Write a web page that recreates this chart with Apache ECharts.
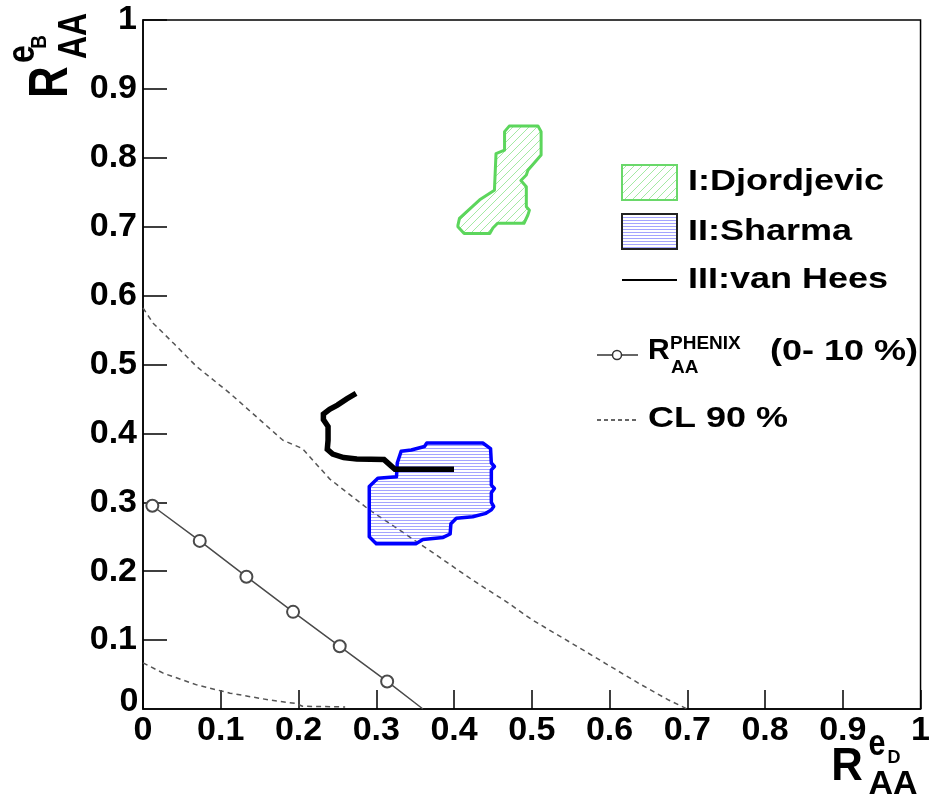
<!DOCTYPE html>
<html><head><meta charset="utf-8">
<script src="https://cdn.jsdelivr.net/npm/echarts@6/dist/echarts.min.js"></script>
<style>html,body{margin:0;padding:0;background:#fff}#c{width:933px;height:801px}</style>
</head><body><div id="c"></div>
<script>
// ---- data ----
const tickLabels = ['0','0.1','0.2','0.3','0.4','0.5','0.6','0.7','0.8','0.9','1'];
const phenixPoints = [[0.012,0.295],[0.073,0.244],[0.133,0.192],[0.193,0.141],[0.253,0.091],[0.314,0.040]];
const phenixEnd = [0.360,0.0];
const clUpper = [[0.0,0.582],[0.013,0.560],[0.040,0.530],[0.069,0.497],[0.112,0.458],[0.150,0.420],[0.180,0.390],[0.205,0.378],[0.240,0.334],[0.291,0.289],[0.340,0.252],[0.383,0.219],[0.424,0.187],[0.467,0.156],[0.501,0.129],[0.552,0.095],[0.595,0.066],[0.638,0.037],[0.676,0.013],[0.700,0.0]];
const clLower = [[0.0,0.067],[0.026,0.052],[0.069,0.035],[0.112,0.023],[0.163,0.013],[0.197,0.008],[0.205,0.004],[0.260,0.003]];
const vanHees = [[0.274,0.458],[0.262,0.450],[0.250,0.441],[0.240,0.435],[0.232,0.428],[0.232,0.420],[0.238,0.410],[0.238,0.390],[0.237,0.377],[0.244,0.370],[0.258,0.365],[0.275,0.363],[0.310,0.362],[0.318,0.354],[0.324,0.348],[0.400,0.348]];
const sharma = [[0.291,0.323],[0.302,0.335],[0.326,0.337],[0.327,0.357],[0.332,0.374],[0.345,0.376],[0.362,0.381],[0.365,0.386],[0.437,0.386],[0.447,0.378],[0.448,0.357],[0.452,0.352],[0.448,0.347],[0.448,0.325],[0.452,0.320],[0.448,0.314],[0.448,0.300],[0.451,0.294],[0.448,0.289],[0.441,0.284],[0.424,0.279],[0.403,0.277],[0.396,0.269],[0.395,0.254],[0.386,0.249],[0.360,0.246],[0.351,0.240],[0.300,0.240],[0.291,0.250]];
const djordjevic = [[0.405,0.702],[0.407,0.712],[0.433,0.739],[0.452,0.753],[0.454,0.806],[0.465,0.811],[0.465,0.838],[0.471,0.846],[0.508,0.846],[0.512,0.838],[0.512,0.804],[0.495,0.782],[0.493,0.775],[0.486,0.767],[0.493,0.758],[0.493,0.729],[0.497,0.724],[0.495,0.717],[0.490,0.705],[0.456,0.705],[0.450,0.698],[0.446,0.690],[0.413,0.690],[0.405,0.700]];

// ---- hatch patterns ----
function greenHatch(){
  const c=document.createElement('canvas');c.width=8;c.height=8;const g=c.getContext('2d');
  g.strokeStyle='rgba(90,215,90,0.55)';g.lineWidth=1;
  g.beginPath();g.moveTo(0,8);g.lineTo(8,0);g.moveTo(-1,1);g.lineTo(1,-1);g.moveTo(7,9);g.lineTo(9,7);g.stroke();
  return c;
}
function blueHatch(){
  const c=document.createElement('canvas');c.width=4;c.height=3;const g=c.getContext('2d');
  g.fillStyle='rgba(90,90,255,0.55)';g.fillRect(0,1,4,1);
  return c;
}
const gPat={image:greenHatch(),repeat:'repeat'};
const bPat={image:blueHatch(),repeat:'repeat'};

const FONT='"Liberation Sans", Arial, Helvetica, sans-serif';
function T(text,cx,cy,size,opt){
  opt=opt||{};
  return {type:'text',x:cx,y:cy,rotation:opt.rot||0,scaleX:opt.sx||1,scaleY:opt.sy||1,z:100,
    style:{text:text,x:0,y:0,fill:'#000',font:'bold '+size+'px '+FONT,
      align:opt.align||'center',textAlign:opt.align||'center',verticalAlign:'middle',textVerticalAlign:'middle'}};
}

function polySeries(name,pts,fill,stroke,lw){
  return {name:name,type:'custom',coordinateSystem:'cartesian2d',data:pts,z:3,
    renderItem:function(params,api){
      if(params.dataIndex!==0) return null;
      const P=pts.map(p=>api.coord(p));
      return {type:'polygon',shape:{points:P},style:{fill:fill,stroke:stroke,lineWidth:lw,lineJoin:'round'}};
    }};
}

const chart=echarts.init(document.getElementById('c'),null,{renderer:'canvas'});
const axisCommon={type:'value',min:0,max:1,interval:0.1,
  axisLine:{show:true,onZero:false,lineStyle:{color:'#000',width:1.5}},
  splitLine:{show:false},minorTick:{show:false}};
const legendX=688;
chart.setOption({
  animation:false,
  backgroundColor:'#fff',
  grid:{left:143,right:11,top:20,bottom:92,show:true,borderColor:'#000',borderWidth:1.5,backgroundColor:'transparent'},
  xAxis:Object.assign({},axisCommon,{
    axisTick:{show:true,inside:true,length:19,lineStyle:{color:'#000',width:1.5}},
    axisLabel:{margin:5,fontSize:34,fontWeight:'bold',fontFamily:FONT,color:'#000',
      formatter:v=>tickLabels[Math.round(v*10)]}}),
  yAxis:Object.assign({},axisCommon,{
    axisTick:{show:true,inside:true,length:24,lineStyle:{color:'#000',width:1.5}},
    axisLabel:{margin:6,fontSize:34,fontWeight:'bold',fontFamily:FONT,color:'#000',padding:[10,0,0,0],
      showMinLabel:false,formatter:v=>tickLabels[Math.round(v*10)]}}),
  series:[
    {name:'CL 90 % upper',type:'line',data:clUpper,symbol:'none',z:2,
      lineStyle:{color:'#555',width:1.5,type:[5,4]}},
    {name:'CL 90 % lower',type:'line',data:clLower,symbol:'none',z:2,
      lineStyle:{color:'#555',width:1.5,type:[5,4]}},
    {name:'PHENIX',type:'line',data:phenixPoints.concat([{value:phenixEnd,symbol:'none'}]),
      symbol:'emptyCircle',symbolSize:12,z:4,
      lineStyle:{color:'#4a4a4a',width:1.5,type:'solid'},itemStyle:{color:'#4a4a4a',borderWidth:1.5}},
    polySeries('I:Djordjevic',djordjevic,gPat,'#5cd65c',3),
    polySeries('II:Sharma',sharma,bPat,'#0000ff',3.5),
    {name:'III:van Hees',type:'line',data:vanHees,symbol:'none',z:5,
      lineStyle:{color:'#000',width:5.5,join:'miter'}}
  ],
  graphic:[
    // y-axis "0" tick label (sits slightly raised in the reference)
    T(tickLabels[0],129,702,34),
    // legend
    {type:'rect',shape:{x:622,y:165,width:55,height:35},style:{fill:gPat,stroke:'#6ad86a',lineWidth:2}},
    T('I:Djordjevic',legendX,182,30,{align:'left',sx:1.2}),
    {type:'rect',shape:{x:622,y:214,width:55,height:35},style:{fill:bPat,stroke:'#222',lineWidth:2}},
    T('II:Sharma',legendX,232,30,{align:'left',sx:1.2}),
    {type:'line',shape:{x1:622,y1:280,x2:677,y2:280},style:{stroke:'#000',lineWidth:2}},
    T('III:van Hees',legendX,280,30,{align:'left',sx:1.2}),
    {type:'line',shape:{x1:597,y1:355,x2:638,y2:355},style:{stroke:'#333',lineWidth:1.5}},
    {type:'circle',shape:{cx:617,cy:355,r:4.5},style:{fill:'#fff',stroke:'#333',lineWidth:1.5}},
    T('R',648,351,30,{align:'left'}),
    T('PHENIX',670,344,19,{align:'left'}),
    T('AA',671,368,19,{align:'left'}),
    T('(0- 10 %)',770,352,30,{align:'left',sx:1.2}),
    {type:'line',shape:{x1:597,y1:420,x2:637,y2:420},style:{stroke:'#333',lineWidth:1.5,lineDash:[4,3]}},
    T('CL 90 %',648,419,30,{align:'left',sx:1.2}),
    // x axis title
    T('R',847,767,46,{sx:0.95}),
    T('AA',893,785,34),
    T('e',877,745,36,{sx:0.85}),
    T('D',894,758,18),
    // y axis title (rotated)
    T('R',52,82,44,{rot:Math.PI/2,sy:1.25}),
    T('AA',75,36,32,{rot:Math.PI/2,sy:1.25}),
    T('e',23,54,32,{rot:Math.PI/2,sy:1.2}),
    T('B',40,42,19,{rot:Math.PI/2,sy:1.2})
  ]
});
</script></body></html>
